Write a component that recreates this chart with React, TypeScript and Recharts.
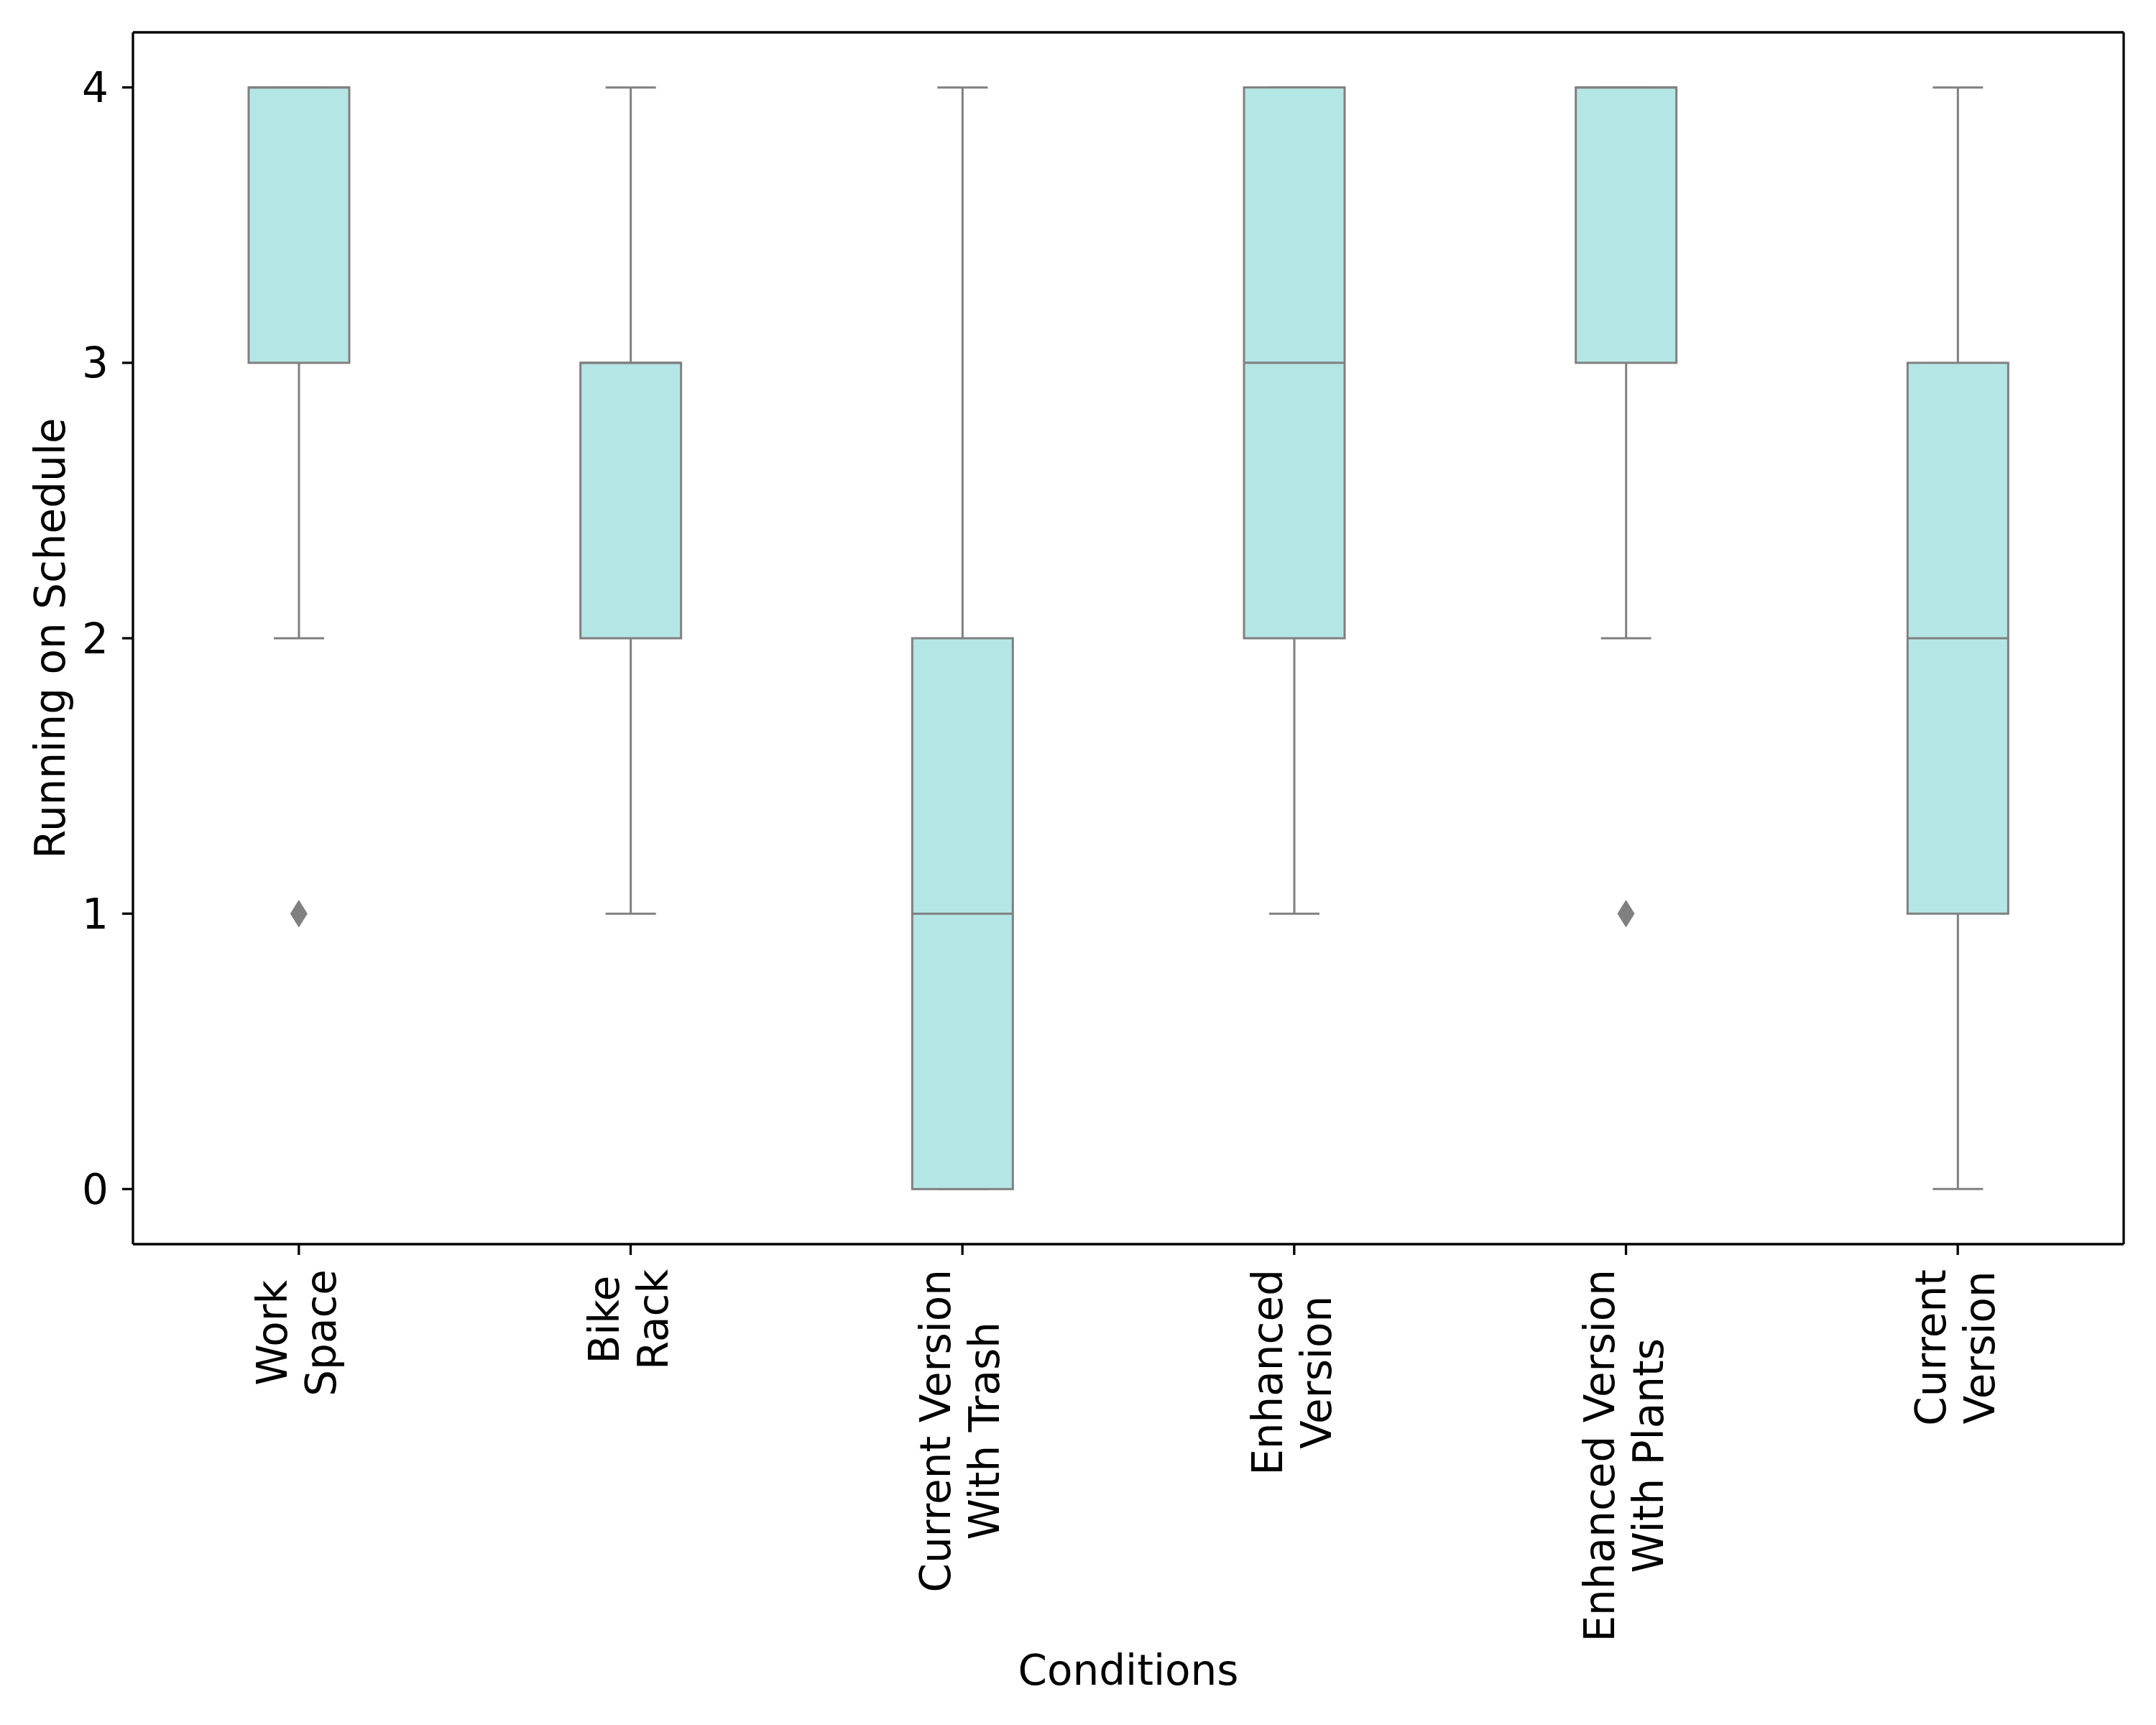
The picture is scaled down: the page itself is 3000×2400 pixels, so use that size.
import React from 'react';
import { ComposedChart, Bar, Scatter, XAxis, YAxis, ReferenceLine } from 'recharts';

const categories = [
  'Work\nSpace',
  'Bike\nRack',
  'Current Version\nWith Trash',
  'Enhanced\nVersion',
  'Enhanced Version\nWith Plants',
  'Current\nVersion',
];
const whiskerLow = [2, 1, 0, 1, 2, 0];
const quartile1 = [3, 2, 0, 2, 3, 1];
const medians = [4, 3, 1, 3, 4, 2];
const quartile3 = [4, 3, 2, 4, 4, 3];
const whiskerHigh = [4, 4, 4, 4, 4, 4];
const outliers: (number | null)[] = [1, null, null, null, 1, null];
const yTicks = [0, 1, 2, 3, 4];
const yDomain = [-0.2, 4.2];

const data = categories.map((name, i) => ({
  name,
  range: [whiskerLow[i], whiskerHigh[i]],
  low: whiskerLow[i],
  q1: quartile1[i],
  med: medians[i],
  q3: quartile3[i],
  high: whiskerHigh[i],
  outlier: outliers[i],
}));

const FONT = '"DejaVu Sans", sans-serif';
const FS = 58;
const BOX_FILL = '#b5e6e6';
const GRAY = '#808080';
const LW = 3;

let ctx: CanvasRenderingContext2D | null = null;
const measure = (s: string) => {
  if (!ctx) {
    const c = document.createElement('canvas');
    ctx = c.getContext('2d');
  }
  if (!ctx) return s.length * FS * 0.6;
  ctx.font = `${FS}px "DejaVu Sans"`;
  return ctx.measureText(s).width;
};

const BoxShape = (props: any) => {
  const { x, y, width, height, payload } = props;
  if (!payload) return null;
  const top = Math.min(y, y + height);
  const h = Math.abs(height);
  const { low, high, q1, q3, med } = payload;
  const pix = (v: number) => top + (h * (high - v)) / (high - low);
  const cx = x + width / 2;
  const capHalf = width / 4;
  return (
    <g>
      <line x1={cx} x2={cx} y1={pix(high)} y2={pix(q3)} stroke={GRAY} strokeWidth={LW} />
      <line x1={cx} x2={cx} y1={pix(q1)} y2={pix(low)} stroke={GRAY} strokeWidth={LW} />
      <line x1={cx - capHalf} x2={cx + capHalf} y1={pix(high)} y2={pix(high)} stroke={GRAY} strokeWidth={LW} />
      <line x1={cx - capHalf} x2={cx + capHalf} y1={pix(low)} y2={pix(low)} stroke={GRAY} strokeWidth={LW} />
      <rect
        x={x}
        y={pix(q3)}
        width={width}
        height={pix(q1) - pix(q3)}
        fill={BOX_FILL}
        stroke={GRAY}
        strokeWidth={LW}
      />
      <line x1={x} x2={x + width} y1={pix(med)} y2={pix(med)} stroke={GRAY} strokeWidth={LW} />
    </g>
  );
};

const DiamondShape = (props: any) => {
  const { cx, cy, payload } = props;
  if (!payload || payload.outlier == null || cx == null || cy == null || isNaN(cy)) return <g />;
  const hw = 11.5;
  const hh = 18.5;
  return (
    <polygon
      points={`${cx},${cy - hh} ${cx + hw},${cy} ${cx},${cy + hh} ${cx - hw},${cy}`}
      fill={GRAY}
      stroke={GRAY}
      strokeWidth={1}
    />
  );
};

const XTick = (props: any) => {
  const { x, y, payload } = props;
  const lines: string[] = String(payload.value).split('\n');
  const widths = lines.map(measure);
  const maxW = Math.max(...widths);
  const n = lines.length;
  const lineGap = 68;
  const first = -(n - 1) * (lineGap / 2) + 17;
  return (
    <g transform={`translate(${x},${y}) rotate(-90)`}>
      {lines.map((ln, i) => (
        <text
          key={i}
          x={-maxW / 2}
          y={first + i * lineGap}
          textAnchor="middle"
          fontFamily={FONT}
          fontSize={FS}
          fill="#000"
        >
          {ln}
        </text>
      ))}
    </g>
  );
};

const YLabel = (props: any) => {
  const vb = props.viewBox || { x: 0, y: 45, width: 185, height: 1686 };
  const x = vb.x + 90;
  const y = vb.y + vb.height / 2;
  return (
    <text
      x={x}
      y={y}
      transform={`rotate(-90, ${x}, ${y})`}
      textAnchor="middle"
      fontFamily={FONT}
      fontSize={FS}
      fill="#000"
    >
      Running on Schedule
    </text>
  );
};

const XLabel = (props: any) => {
  const vb = props.viewBox || { x: 185, y: 1731, width: 2770, height: 669 };
  const x = vb.x + vb.width / 2;
  const y = vb.y + 613;
  return (
    <text x={x} y={y} textAnchor="middle" fontFamily={FONT} fontSize={FS} fill="#000">
      Conditions
    </text>
  );
};

export default function App() {
  return (
    <div style={{ position: 'absolute', left: 0, top: 0, width: 3000, height: 2400, background: '#fff' }}>
      <ComposedChart
        width={3000}
        height={2400}
        data={data}
        margin={{ top: 45, right: 45, bottom: 0, left: 0 }}
      >
        <XAxis
          dataKey="name"
          type="category"
          height={669}
          tick={<XTick />}
          tickSize={15}
          tickMargin={20}
          interval={0}
          axisLine={{ stroke: '#000', strokeWidth: 3.3 }}
          tickLine={{ stroke: '#000', strokeWidth: 3.3 }}
          label={{ content: (p: any) => <XLabel {...p} /> }}
        />
        <YAxis
          type="number"
          domain={yDomain}
          ticks={yTicks}
          allowDataOverflow
          width={185}
          tickSize={15}
          tickMargin={19}
          tick={{ fontFamily: FONT, fontSize: FS, fill: '#000' }}
          axisLine={{ stroke: '#000', strokeWidth: 3.3 }}
          tickLine={{ stroke: '#000', strokeWidth: 3.3 }}
          label={{ content: (p: any) => <YLabel {...p} /> }}
        />
        <Bar dataKey="range" barSize={140} shape={<BoxShape />} isAnimationActive={false} />
        <Scatter dataKey="outlier" shape={<DiamondShape />} isAnimationActive={false} />
        <ReferenceLine y={yDomain[1]} stroke="#000" strokeWidth={3.3} ifOverflow="visible" />
        <ReferenceLine
          x={categories[categories.length - 1]}
          position="end"
          stroke="#000"
          strokeWidth={3.3}
          ifOverflow="visible"
        />
      </ComposedChart>
    </div>
  );
}
